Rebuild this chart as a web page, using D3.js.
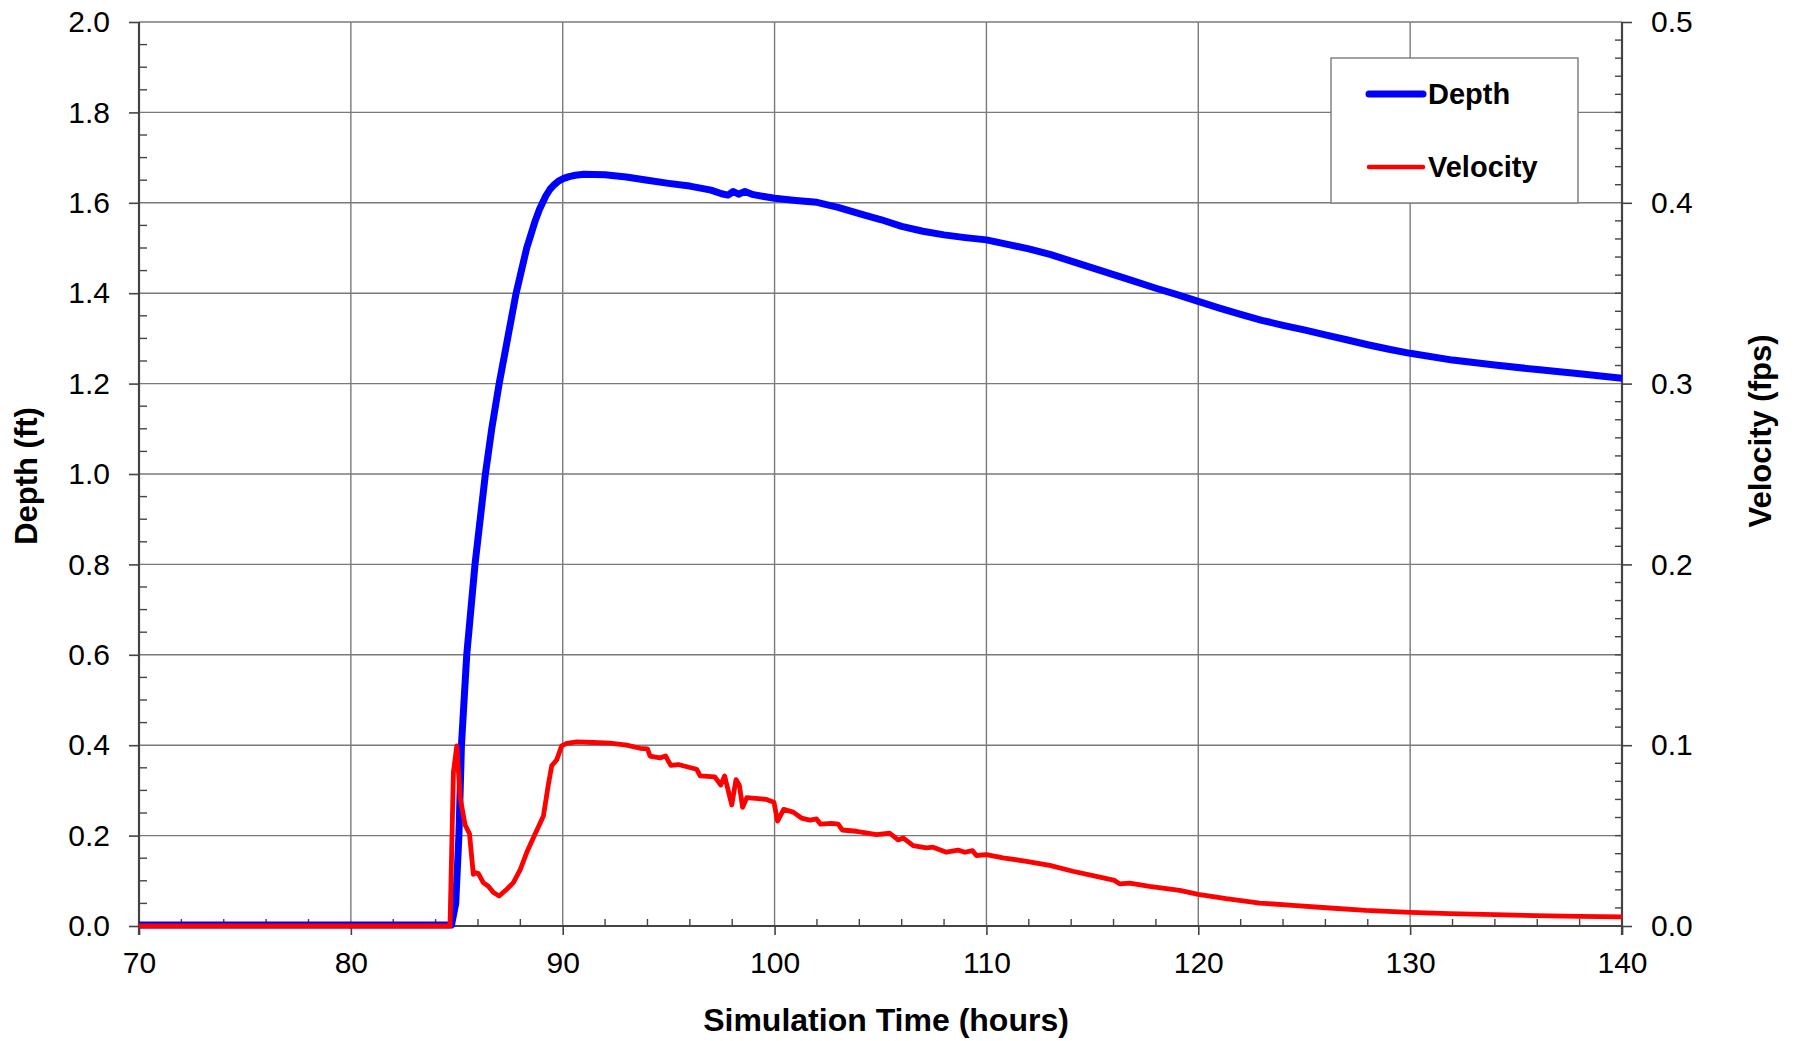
<!DOCTYPE html>
<html>
<head>
<meta charset="utf-8">
<script src="https://cdn.jsdelivr.net/npm/d3@7"></script>
<style>
  html, body { margin: 0; padding: 0; background: #fff; }
  svg { display: block; font-family: "Liberation Sans", Arial, sans-serif; }
</style>
</head>
<body>
<div class="container"></div>
<script>
// depth series (ft) against simulation time (hours)
var depthTime = [70, 84.75, 84.95, 85.1, 85.22, 85.47, 85.86, 86.35, 86.65, 87.0, 87.4, 87.8, 88.05, 88.3, 88.5, 88.7,
    88.9, 89.05, 89.2, 89.4, 89.6, 89.8, 90.05, 90.3, 90.6, 91.0, 92.0, 93.0, 94.0, 95.0, 96.0, 97.0, 97.5, 97.8,
    98.05, 98.3, 98.6, 99.0, 99.5, 100, 101, 102, 103, 104, 105, 106, 107, 108, 109, 110, 111, 112, 113, 114,
    115, 116, 117, 118, 119, 120, 121, 122, 123, 124, 125, 126, 127, 128, 129, 130, 132, 134, 136, 138, 140];
var depthValues = [0.002, 0.002, 0.05, 0.2, 0.4, 0.6, 0.8, 1.0, 1.1, 1.2, 1.3, 1.4, 1.45, 1.5, 1.53, 1.56,
    1.585, 1.6, 1.615, 1.63, 1.64, 1.648, 1.654, 1.658, 1.661, 1.663, 1.662, 1.657, 1.65, 1.643, 1.637, 1.628,
    1.62, 1.617, 1.625, 1.619, 1.625, 1.618, 1.614, 1.61, 1.605, 1.601, 1.59, 1.576, 1.563, 1.548, 1.537, 1.529,
    1.523, 1.518, 1.508, 1.498, 1.486, 1.471, 1.456, 1.441, 1.426, 1.411, 1.397, 1.382, 1.367, 1.353, 1.34,
    1.329, 1.319, 1.308, 1.297, 1.286, 1.276, 1.267, 1.252, 1.241, 1.231, 1.222, 1.212];

// velocity series (fps) against simulation time (hours)
var velocityTime = [70, 84.68, 84.84, 85.0, 85.16, 85.39, 85.6, 85.78, 85.9, 86.02, 86.25, 86.49, 86.73, 87.0,
    87.36, 87.67, 87.99, 88.3, 88.69, 89.09, 89.32, 89.48, 89.72, 89.95, 90.19, 90.66, 91.45, 92.23, 93.02,
    93.65, 94.0, 94.12, 94.59, 94.86, 95.1, 95.45, 96.32, 96.49, 97.18, 97.46, 97.64, 97.98, 98.18, 98.34,
    98.49, 98.69, 99.62, 99.97, 100.14, 100.43, 100.88, 101.27, 101.67, 101.98, 102.16, 102.69, 103.0, 103.2,
    103.87, 104.81, 105.44, 105.83, 106.07, 106.54, 107.17, 107.48, 108.11, 108.66, 108.98, 109.34, 109.53,
    110.0, 110.78, 111.89, 112.99, 114.08, 115.19, 116.05, 116.29, 116.76, 117.7, 119.12, 120, 121.32, 122.9,
    124.46, 126.04, 127.92, 130, 131.86, 134, 135.94, 138, 140];
var velocityValues = [0, 0, 0.085, 0.0996, 0.071, 0.056, 0.051, 0.0286, 0.0295, 0.029, 0.024, 0.022, 0.0185, 0.0166,
    0.0203, 0.024, 0.031, 0.0406, 0.0507, 0.0609, 0.078, 0.0886, 0.092, 0.0996, 0.101, 0.1018, 0.1015, 0.1011, 0.1,
    0.0983, 0.098, 0.094, 0.093, 0.094, 0.0888, 0.0893, 0.0867, 0.083, 0.0825, 0.078, 0.083, 0.067, 0.081, 0.0777,
    0.0656, 0.071, 0.070, 0.0685, 0.058, 0.0645, 0.063, 0.0597, 0.0586, 0.0592, 0.0564, 0.0568, 0.0564, 0.0531,
    0.0524, 0.0505, 0.0513, 0.0476, 0.0487, 0.0445, 0.0432, 0.0436, 0.0408, 0.042, 0.0408, 0.0417, 0.039,
    0.0395, 0.0377, 0.0358, 0.0335, 0.0303, 0.0274, 0.0252, 0.0233, 0.0237, 0.0219, 0.0197, 0.0175, 0.0151, 0.0127,
    0.0114, 0.0101, 0.0086, 0.0075, 0.0068, 0.0063, 0.0057, 0.0053, 0.005];

var timeTicks = [70, 80, 90, 100, 110, 120, 130, 140];
var depthTicks = [0, 0.2, 0.4, 0.6, 0.8, 1.0, 1.2, 1.4, 1.6, 1.8, 2.0];
var velocityTicks = [0, 0.1, 0.2, 0.3, 0.4, 0.5];
var seriesNames = ["Depth", "Velocity"];
var seriesColors = ["#0000FF", "#FF0000"];

const SVG_WIDTH = 1797, SVG_HEIGHT = 1041;
const MARGIN = { top: 22, right: 175, bottom: 115, left: 139 };
const W = SVG_WIDTH - MARGIN.left - MARGIN.right;
const H = SVG_HEIGHT - MARGIN.top - MARGIN.bottom;

var svg = d3.select(".container").append("svg")
    .attr("width", SVG_WIDTH)
    .attr("height", SVG_HEIGHT);

var g = svg.append("g").attr("transform", `translate(${MARGIN.left}, ${MARGIN.top})`);

var x = d3.scaleLinear().domain([70, 140]).range([0, W]);
var yDepth = d3.scaleLinear().domain([0, 2]).range([H, 0]);
var yVel = d3.scaleLinear().domain([0, 0.5]).range([H, 0]);

// gridlines
g.append("g").selectAll("line")
    .data(depthTicks.slice(1))
    .enter().append("line")
    .attr("x1", 0).attr("x2", W)
    .attr("y1", d => yDepth(d)).attr("y2", d => yDepth(d))
    .attr("stroke", "#7a7a7a").attr("stroke-width", 1.4);

g.append("g").selectAll("line")
    .data(timeTicks.slice(1, -1))
    .enter().append("line")
    .attr("x1", d => x(d)).attr("x2", d => x(d))
    .attr("y1", 0).attr("y2", H)
    .attr("stroke", "#7a7a7a").attr("stroke-width", 1.4);

// axes
function styleAxis(sel) {
    sel.select(".domain").remove();
    sel.selectAll(".tick line").attr("stroke", "#444").attr("stroke-width", 1.6);
    sel.selectAll(".tick text").attr("fill", "#000").style("font-size", "30px")
        .style("font-family", "'Liberation Sans', Arial, sans-serif");
}

var axisColor = "#444";

g.append("g")
    .attr("transform", `translate(0, ${H})`)
    .call(d3.axisBottom(x).tickValues(timeTicks).tickSize(9).tickPadding(17).tickFormat(d3.format("d")))
    .call(styleAxis);

g.append("g")
    .call(d3.axisLeft(yDepth).tickValues(depthTicks).tickSize(10).tickPadding(19).tickFormat(d3.format(".1f")))
    .call(styleAxis);

g.append("g")
    .attr("transform", `translate(${W}, 0)`)
    .call(d3.axisRight(yVel).tickValues(velocityTicks).tickSize(10).tickPadding(19).tickFormat(d3.format(".1f")))
    .call(styleAxis);

// minor ticks (inside)
g.append("g").selectAll("line")
    .data(d3.range(72, 140, 2).filter(d => d % 10 !== 0))
    .enter().append("line")
    .attr("x1", d => x(d)).attr("x2", d => x(d))
    .attr("y1", H).attr("y2", H - 7)
    .attr("stroke", axisColor).attr("stroke-width", 1.4);

g.append("g").selectAll("line")
    .data(d3.range(1, 40).map(i => i * 0.05).filter((d, i) => (i + 1) % 4 !== 0))
    .enter().append("line")
    .attr("x1", 0).attr("x2", 8)
    .attr("y1", d => yDepth(d)).attr("y2", d => yDepth(d))
    .attr("stroke", axisColor).attr("stroke-width", 1.4);

g.append("g").selectAll("line")
    .data(d3.range(1, 50).filter(i => i % 10 !== 0).map(i => i * 0.01))
    .enter().append("line")
    .attr("x1", W).attr("x2", W - 7)
    .attr("y1", d => yVel(d)).attr("y2", d => yVel(d))
    .attr("stroke", axisColor).attr("stroke-width", 1.4);

// axis lines
g.append("line").attr("x1", 0).attr("x2", 0).attr("y1", 0).attr("y2", H + 9)
    .attr("stroke", axisColor).attr("stroke-width", 2.2);
g.append("line").attr("x1", W).attr("x2", W).attr("y1", 0).attr("y2", H + 9)
    .attr("stroke", axisColor).attr("stroke-width", 2.2);
g.append("line").attr("x1", 0).attr("x2", W).attr("y1", H).attr("y2", H)
    .attr("stroke", axisColor).attr("stroke-width", 2.2);

// data lines
var depthLine = d3.line()
    .x((d, i) => x(depthTime[i]))
    .y(d => yDepth(d));

var velocityLine = d3.line()
    .x((d, i) => x(velocityTime[i]))
    .y(d => yVel(d));

g.append("path")
    .datum(depthValues)
    .attr("d", depthLine)
    .attr("fill", "none")
    .attr("stroke", seriesColors[0])
    .attr("stroke-width", 7)
    .attr("stroke-linejoin", "round");

g.append("path")
    .datum(velocityValues)
    .attr("d", velocityLine)
    .attr("fill", "none")
    .attr("stroke", seriesColors[1])
    .attr("stroke-width", 4.8)
    .attr("stroke-linejoin", "round");

// legend
var legend = svg.append("g").attr("transform", "translate(1331, 58)");
legend.append("rect")
    .attr("width", 247).attr("height", 145)
    .attr("fill", "#fff").attr("stroke", "#7a7a7a").attr("stroke-width", 1.4);

legend.selectAll(".key")
    .data(seriesNames)
    .enter().append("line")
    .attr("x1", 38).attr("x2", 92)
    .attr("y1", (d, i) => 36 + i * 73).attr("y2", (d, i) => 36 + i * 73)
    .attr("stroke", (d, i) => seriesColors[i])
    .attr("stroke-width", (d, i) => i === 0 ? 7 : 4.5)
    .attr("stroke-linecap", "round");

legend.selectAll("text")
    .data(seriesNames)
    .enter().append("text")
    .attr("x", 97)
    .attr("y", (d, i) => 46 + i * 72.5)
    .style("font-size", "29px")
    .style("font-weight", "bold")
    .text(d => d);

// axis titles
svg.append("text")
    .attr("x", 886).attr("y", 1031)
    .attr("text-anchor", "middle")
    .style("font-size", "32px").style("font-weight", "bold")
    .text("Simulation Time (hours)");

svg.append("text")
    .attr("transform", "translate(37, 476) rotate(-90)")
    .attr("text-anchor", "middle")
    .style("font-size", "31px").style("font-weight", "bold")
    .text("Depth (ft)");

svg.append("text")
    .attr("transform", "translate(1771, 431) rotate(-90)")
    .attr("text-anchor", "middle")
    .style("font-size", "31px").style("font-weight", "bold")
    .text("Velocity (fps)");
</script>
</body>
</html>
